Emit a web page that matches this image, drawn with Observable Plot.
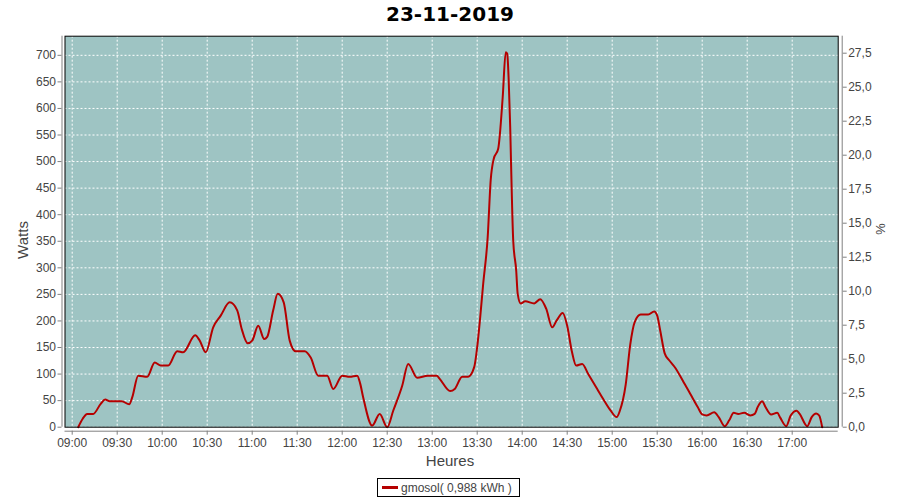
<!DOCTYPE html>
<html><head><meta charset="utf-8">
<script src="https://cdn.jsdelivr.net/npm/d3@7"></script>
<script src="https://cdn.jsdelivr.net/npm/@observablehq/plot@0.6"></script>
<style>
body{margin:0;background:#fff;}
#wrap{position:relative;width:900px;height:500px;font-family:"Liberation Sans",Arial,sans-serif;color:#444;}
#wrap svg{position:absolute;left:0;top:0;}
.t{position:absolute;white-space:nowrap;}
#title{left:0;width:900px;top:2px;text-align:center;font:bold 20px "DejaVu Sans",sans-serif;color:#000;}
#ylab{left:22px;top:240px;transform:translate(-50%,-50%) rotate(-90deg);font-size:15px;color:#444;}
#y2lab{left:880px;top:229px;transform:translate(-50%,-50%) rotate(90deg);font-size:13px;color:#444;}
#xlab{left:450px;top:460px;transform:translate(-50%,-50%);font-size:15px;color:#444;}
#legend{left:377px;top:478px;width:143px;height:19px;border:1px solid #000;box-sizing:border-box;font-size:12px;color:#444;display:flex;align-items:center;}
#legend .sw{display:inline-block;width:16px;height:3px;background:#b50000;margin:0 3px 0 4px;}
</style></head>
<body><div id="wrap">
<div class="t" id="title">23-11-2019</div>
<div class="t" id="ylab">Watts</div>
<div class="t" id="y2lab">%</div>
<div class="t" id="xlab">Heures</div>
<div class="t" id="legend"><span class="sw"></span><span>gmosol( 0,988 kWh )</span></div>
</div>
<script>
const times = ["09:04","09:07","09:10","09:14","09:19","09:22","09:25","09:33","09:38","09:40","09:44","09:50","09:55","09:59","10:04","10:10","10:14","10:22","10:25","10:29","10:34","10:39","10:45","10:50","10:53","10:57","11:00","11:04","11:08","11:10","11:14","11:17","11:21","11:25","11:29","11:35","11:39","11:44","11:50","11:54","12:00","12:05","12:10","12:12","12:14","12:20","12:25","12:30","12:34","12:40","12:44","12:50","12:57","13:03","13:05","13:12","13:15","13:20","13:24","13:28","13:30","13:32","13:34","13:37","13:39","13:41","13:44","13:47","13:49","13:50","13:51","13:52","13:53","13:54","13:56","13:57","13:59","14:02","14:08","14:12","14:16","14:20","14:23","14:27","14:30","14:33","14:36","14:40","14:44","14:50","14:54","14:59","15:03","15:05","15:09","15:12","15:15","15:19","15:24","15:28","15:30","15:32","15:35","15:38","15:42","15:47","15:52","15:57","16:00","16:03","16:08","16:11","16:15","16:18","16:21","16:24","16:28","16:32","16:35","16:37","16:40","16:42","16:46","16:50","16:52","16:56","16:59","17:03","17:05","17:10","17:13","17:16","17:18","17:20"];
const watts = [0,16,25,25,44,52,49,49,43,56,97,95,122,116,116,143,141,173,163,141,188,210,235,220,185,158,163,191,166,170,220,251,235,163,143,143,131,97,97,72,97,95,97,82,56,3,25,0,31,78,119,93,97,97,91,68,72,95,95,113,151,207,270,358,465,505,524,621,706,703,653,565,446,352,295,251,233,237,233,241,223,188,201,215,191,144,116,119,100,72,53,31,19,30,80,155,198,212,212,218,210,182,139,126,112,88,63,38,24,22,28,19,2,13,27,25,27,22,25,38,49,39,24,27,18,2,22,31,25,2,19,26,22,0];
const xTickLabels = ["09:00","09:30","10:00","10:30","11:00","11:30","12:00","12:30","13:00","13:30","14:00","14:30","15:00","15:30","16:00","16:30","17:00"];
const yTicks = [0,50,100,150,200,250,300,350,400,450,500,550,600,650,700];
const pctTicks = [0,2.5,5,7.5,10,12.5,15,17.5,20,22.5,25,27.5];
const WATTS_PER_PCT = 25.6;

const toDate = (s, sec = 0) => { const [h, m] = s.split(":").map(Number); return new Date(Date.UTC(2019, 10, 23, h, m, sec)); };
const data = times.map((t, i) => ({t: toDate(t), w: watts[i]}));
const xTicks = xTickLabels.map(s => toDate(s));
const xDomain = [toDate("08:55", 12), toDate("17:30", 40)];
const fmt = d3.utcFormat("%H:%M");
const axisGray = "#808080";
const bg = "#9ec4c3";

const chart = Plot.plot({
  width: 900, height: 500,
  marginLeft: 64.5, marginRight: 62.3, marginTop: 35.7, marginBottom: 73.3,
  style: {fontFamily: '"Liberation Sans", Arial, sans-serif', background: "transparent"},
  x: {type: "utc", domain: xDomain, label: null},
  y: {domain: [0, 736], label: null},
  marks: [
    Plot.frame({fill: bg, stroke: null}),
    Plot.gridX(xTicks, {stroke: "white", strokeOpacity: 1, strokeDasharray: "2,2"}),
    Plot.gridY(yTicks, {stroke: "white", strokeOpacity: 1, strokeDasharray: "2,2"}),
    Plot.line(data, {x: "t", y: "w", stroke: "#b50000", strokeWidth: 2, curve: "monotone-x"}),
    Plot.frame({stroke: "#000", strokeWidth: 1}),
    Plot.ruleX([xDomain[0]], {dx: -3, stroke: axisGray}),
    Plot.ruleX([xDomain[1]], {dx: 4, stroke: axisGray}),
    Plot.ruleY([0], {dy: 4, stroke: axisGray}),
    Plot.axisY(yTicks, {anchor: "left", dx: -3, tickSize: 4, tickPadding: 2, stroke: axisGray, fill: "#444", fontSize: 12, label: null}),
    Plot.axisY(pctTicks.map(p => p * WATTS_PER_PCT), {anchor: "right", dx: 4, tickSize: 4, tickPadding: 2, stroke: axisGray, fill: "#444", fontSize: 12, label: null,
      tickFormat: d => (d / WATTS_PER_PCT).toFixed(1).replace(".", ",")}),
    Plot.axisX(xTicks, {anchor: "bottom", dy: 4, tickSize: 4, tickPadding: 3, stroke: axisGray, fill: "#444", fontSize: 12, label: null, tickFormat: fmt})
  ]
});
document.getElementById("wrap").prepend(chart);
</script>
</body></html>
